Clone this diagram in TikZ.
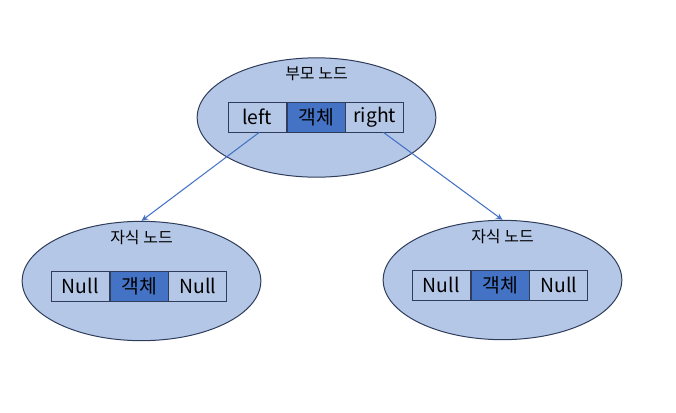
\documentclass[tikz,border=0pt]{standalone}
\usepackage{fontspec}
\setmainfont{Noto Sans CJK KR}
\usepackage{tikz}
\usetikzlibrary{shapes.geometric,positioning,arrows.meta}

\definecolor{nodefill}{RGB}{180,199,231}
\definecolor{objfill}{RGB}{68,114,196}
\definecolor{edgeline}{RGB}{47,60,90}
\definecolor{arrowline}{RGB}{68,114,196}

\tikzset{
  treenode/.style={ellipse,draw=edgeline,fill=nodefill,line width=0.75pt,minimum width=179pt,minimum height=89.5pt,inner sep=0pt},
  cell/.style={draw=edgeline,fill=nodefill,line width=0.6pt,minimum width=43.5pt,minimum height=22.5pt,inner sep=0pt,font=\fontsize{14.5}{16}\selectfont},
  objcell/.style={cell,fill=objfill},
  nodelabel/.style={inner sep=0pt,font=\fontsize{12}{14}\selectfont},
  link/.style={draw=arrowline,line width=0.8pt,-{Stealth[length=5pt,width=4.5pt]}}
}

\begin{document}
\begin{tikzpicture}[x=0.75pt,y=0.75pt,yscale=-1,xscale=1]
        \useasboundingbox (0,0) rectangle (676,412);

        % parent node
        \node [treenode] (parent) at (316.5,117.5) {};
        \node [nodelabel] (ptitle) at (316.5,74) {부모 노드};
        \node [objcell] (pobj) at (316,117) {객체};
        \node [cell, left=0pt of pobj] (pl) {left};
        \node [cell, right=0pt of pobj] (pr) {right};

        % left child
        \node [treenode] (lchild) at (141.5,281) {};
        \node [nodelabel] (ltitle) at (141.5,238) {자식 노드};
        \node [objcell] (lobj) at (139,286) {객체};
        \node [cell, left=0pt of lobj] (ll) {Null};
        \node [cell, right=0pt of lobj] (lr) {Null};

        % right child
        \node [treenode] (rchild) at (502.5,280) {};
        \node [nodelabel] (rtitle) at (502.5,237) {자식 노드};
        \node [objcell] (robj) at (500,285) {객체};
        \node [cell, left=0pt of robj] (rl) {Null};
        \node [cell, right=0pt of robj] (rr) {Null};

        \draw [link] ([xshift=1.5pt]pl.south) -- (lchild.north);
        \draw [link] ([xshift=6.5pt]pr.south) -- (rchild.north);
    \end{tikzpicture}
\end{document}
